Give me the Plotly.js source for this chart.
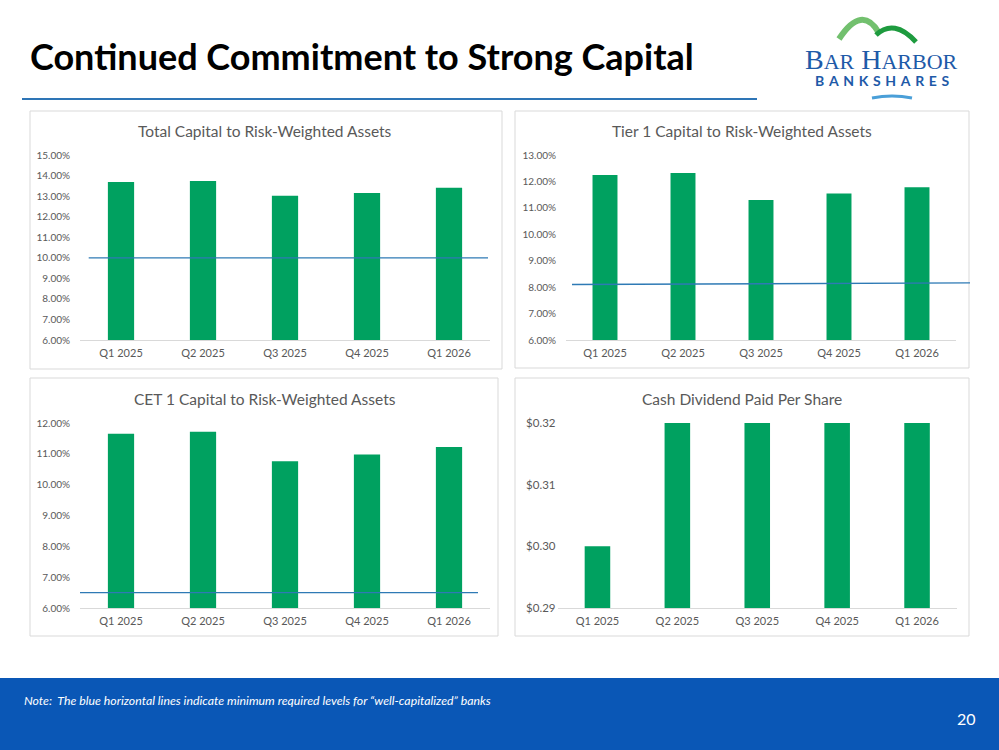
<!DOCTYPE html>
<html>
<head>
<meta charset="utf-8">
<script src="https://cdn.plot.ly/plotly-3.0.1.min.js"></script>
<style>
html,body{margin:0;padding:0;background:#fff;}
#chart{width:999px;height:750px;}
</style>
</head>
<body>
<div id="chart"></div>
<script>
// ---- data ----
const categories = ['Q1 2025', 'Q2 2025', 'Q3 2025', 'Q4 2025', 'Q1 2026'];
const totalCapital = [13.69, 13.74, 13.02, 13.15, 13.41];
const tier1Capital = [12.24, 12.32, 11.30, 11.54, 11.78];
const cet1Capital = [11.65, 11.72, 10.76, 10.98, 11.22];
const dividends = [0.30, 0.32, 0.32, 0.32, 0.32];
const totalMin = [10.0, 10.0];
const tier1Min = [8.10, 8.16];
const cet1Min = [6.5, 6.5];
const chartTitles = ['Total Capital to Risk-Weighted Assets', 'Tier 1 Capital to Risk-Weighted Assets',
                     'CET 1 Capital to Risk-Weighted Assets', 'Cash Dividend Paid Per Share'];
const slideTitle = 'Continued Commitment to Strong Capital';
const noteText = 'Note:  The blue horizontal lines indicate minimum required levels for \u201Cwell-capitalized\u201D banks';
const pageNumber = '20';

// ---- helpers (pixel -> paper) ----
const W = 999, H = 750;
const X = px => px / W;
const Y = py => 1 - py / H;

const GREEN = '#00A160';
const LINEBLUE = '#2E7AB5';
const GRAY = '#595959';
const FONT = 'Lato, "Open Sans", sans-serif';

function bar(y, xa, ya) {
  return {type: 'bar', x: categories, y: y, xaxis: xa, yaxis: ya,
          marker: {color: GREEN}, hoverinfo: 'x+y', showlegend: false};
}
const data = [
  bar(totalCapital, 'x', 'y'),
  bar(tier1Capital, 'x2', 'y2'),
  bar(cet1Capital, 'x3', 'y3'),
  bar(dividends, 'x4', 'y4')
];

function xax(d, anchor) {
  return {domain: [X(d[0]), X(d[1])], anchor: anchor, type: 'category', showline: true,
          linecolor: '#D9D9D9', linewidth: 1, ticks: '', showgrid: false, zeroline: false,
          tickfont: {family: FONT, size: 11, color: GRAY}, ticklabelstandoff: 3, fixedrange: true};
}
function yax(d, anchor, range, dtick, fmt, suffix, standoff, fsize) {
  return {domain: [Y(d[1]), Y(d[0])], anchor: anchor, range: range, dtick: dtick,
          tickformat: fmt, ticksuffix: suffix, showgrid: false, zeroline: false, showline: false,
          ticks: '', tickfont: {family: FONT, size: fsize, color: GRAY}, ticklabelstandoff: standoff,
          fixedrange: true};
}

const panels = [[30, 111, 502, 369], [515, 111, 969, 368], [30, 378, 498, 636], [515, 378, 969, 636]];
const shapes = panels.map(p => ({type: 'rect', xref: 'paper', yref: 'paper',
  x0: X(p[0]), x1: X(p[2]), y0: Y(p[3]), y1: Y(p[1]), line: {color: '#D9D9D9', width: 1}, layer: 'below'}));

// threshold lines
shapes.push({type: 'line', xref: 'paper', yref: 'y', x0: X(88.7), x1: X(488), y0: totalMin[0], y1: totalMin[1],
             line: {color: LINEBLUE, width: 1.3}});
shapes.push({type: 'line', xref: 'paper', yref: 'y2', x0: X(572), x1: X(970), y0: tier1Min[0], y1: tier1Min[1],
             line: {color: LINEBLUE, width: 1.3}});
shapes.push({type: 'line', xref: 'paper', yref: 'y3', x0: X(80), x1: X(478), y0: cet1Min[0], y1: cet1Min[1],
             line: {color: LINEBLUE, width: 1.3}});

// title underline
shapes.push({type: 'line', xref: 'paper', yref: 'paper', x0: X(22), x1: X(757), y0: Y(99), y1: Y(99),
             line: {color: '#2E75B6', width: 2}});
// footer band
shapes.push({type: 'rect', xref: 'paper', yref: 'paper', x0: 0, x1: 1, y0: 0, y1: Y(678),
             fillcolor: '#0A57B6', line: {width: 0}, layer: 'below'});

// logo hills
function qpath(p) {
  return 'M ' + X(p[0]) + ',' + Y(p[1]) + ' Q ' + X(p[2]) + ',' + Y(p[3]) + ' ' + X(p[4]) + ',' + Y(p[5]);
}
shapes.push({type: 'path', xref: 'paper', yref: 'paper', path: qpath([839, 39, 862, 4, 879, 33]),
             line: {color: '#72C06E', width: 6}});
shapes.push({type: 'path', xref: 'paper', yref: 'paper', path: qpath([876, 35, 894, 18, 916, 42]),
             line: {color: '#1E9B3F', width: 5}});
shapes.push({type: 'path', xref: 'paper', yref: 'paper', path: qpath([872, 98, 892, 94, 912, 98]),
             line: {color: '#4A9FD8', width: 3}});

const titlePos = [[265, 131], [742, 131], [265, 399], [742, 399]];
const annotations = chartTitles.map((t, i) => ({text: t, xref: 'paper', yref: 'paper',
  x: X(titlePos[i][0]), y: Y(titlePos[i][1]), xanchor: 'center', yanchor: 'middle', showarrow: false,
  font: {family: FONT, size: 15.5, color: GRAY}}));

annotations.push({text: '<b>' + slideTitle + '</b>', xref: 'paper', yref: 'paper', x: X(28), y: Y(56),
  xanchor: 'left', yanchor: 'middle', showarrow: false, font: {family: FONT, size: 36, color: '#000000'}});
annotations.push({text: '<i>' + noteText + '</i>', xref: 'paper', yref: 'paper', x: X(22), y: Y(700),
  xanchor: 'left', yanchor: 'middle', showarrow: false, font: {family: FONT, size: 12.3, color: '#FFFFFF'}});
annotations.push({text: pageNumber, xref: 'paper', yref: 'paper', x: X(966), y: Y(718),
  xanchor: 'center', yanchor: 'middle', showarrow: false, font: {family: FONT, size: 16, color: '#FFFFFF'}});
// logo text
annotations.push({text: 'B<span style="font-size:22px">AR</span> H<span style="font-size:22px">ARBOR</span>',
  xref: 'paper', yref: 'paper', x: X(881), y: Y(59), xanchor: 'center', yanchor: 'middle', showarrow: false,
  font: {family: '"Liberation Serif", serif', size: 28, color: '#1E5AA8'}});
annotations.push({text: '<b>B\u2004A\u2004N\u2004K\u2004S\u2004H\u2004A\u2004R\u2004E\u2004S</b>',
  xref: 'paper', yref: 'paper', x: X(882), y: Y(80), xanchor: 'center', yanchor: 'middle', showarrow: false,
  font: {family: FONT, size: 14, color: '#1E5AA8'}});

const layout = {
  width: W, height: H, margin: {l: 0, r: 0, t: 0, b: 0},
  paper_bgcolor: '#FFFFFF', plot_bgcolor: 'rgba(0,0,0,0)',
  showlegend: false, bargap: 0.68,
  xaxis: xax([80, 490], 'y'),
  yaxis: yax([155, 340], 'x', [6, 15], 1, '.2f', '%', 9, 10),
  xaxis2: xax([566, 956], 'y2'),
  yaxis2: yax([155, 340], 'x2', [6, 13], 1, '.2f', '%', 9, 10),
  xaxis3: xax([80, 490], 'y3'),
  yaxis3: yax([423, 608], 'x3', [6, 12], 1, '.2f', '%', 9, 10),
  xaxis4: xax([557.5, 957], 'y4'),
  yaxis4: yax([423, 608], 'x4', [0.29, 0.32], 0.01, '$.2f', '', 1, 11.5),
  shapes: shapes,
  annotations: annotations
};

Plotly.newPlot('chart', data, layout, {displayModeBar: false, responsive: false});
</script>
</body>
</html>
